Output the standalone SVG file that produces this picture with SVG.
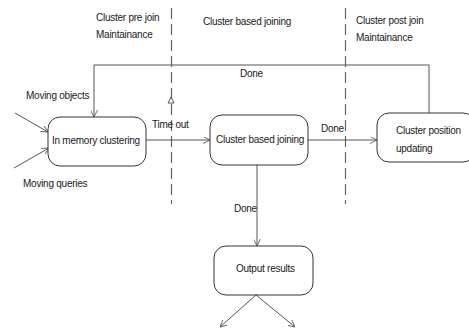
<svg xmlns="http://www.w3.org/2000/svg" width="469" height="328" viewBox="0 0 469 328">
<defs>
<style>
text{font-family:"Liberation Sans",Arial,sans-serif;font-size:10px;letter-spacing:-0.25px;fill:#1a1a1a;}
.box{fill:#fff;stroke:#333;stroke-width:1;}
.ln{fill:none;stroke:#555;stroke-width:1;}
.dash{fill:none;stroke:#666;stroke-width:1.2;stroke-dasharray:11,5;}
</style>
<marker id="ah" viewBox="0 0 10 10" refX="10" refY="5" markerWidth="7" markerHeight="7" markerUnits="userSpaceOnUse" orient="auto">
<path d="M0,0 L10,5 L0,10" fill="none" stroke="#555" stroke-width="1.2"/>
</marker>
</defs>
<rect width="469" height="328" fill="#fff"/>
<g id="phases">
<line class="dash" x1="171.5" y1="8" x2="171.5" y2="204"/>
<line class="dash" x1="345.5" y1="8" x2="345.5" y2="204"/>
<text x="96" y="21">Cluster pre join</text>
<text x="96" y="38">Maintainance</text>
<text x="203" y="25">Cluster based joining</text>
<text x="356" y="24">Cluster post join</text>
<text x="356" y="41">Maintainance</text>
<polygon points="168,103 171,97 174,103" fill="#fff" stroke="#444" stroke-width="0.9"/>
</g>
<g id="connectors">
<polyline class="ln" points="429,113 429,65 94,65 94,117" marker-end="url(#ah)"/>
<line class="ln" x1="15" y1="113" x2="48" y2="132" marker-end="url(#ah)"/>
<line class="ln" x1="14" y1="168" x2="49" y2="148" marker-end="url(#ah)"/>
<line class="ln" x1="146" y1="140" x2="210" y2="140" marker-end="url(#ah)"/>
<line class="ln" x1="308" y1="140" x2="377" y2="140" marker-end="url(#ah)"/>
<line class="ln" x1="257" y1="165" x2="257" y2="246" marker-end="url(#ah)"/>
<line class="ln" x1="256" y1="295" x2="220" y2="327" marker-end="url(#ah)"/>
<line class="ln" x1="256" y1="295" x2="295" y2="327" marker-end="url(#ah)"/>
<text x="240" y="77">Done</text>
<text x="26" y="99">Moving objects</text>
<text x="23" y="187">Moving queries</text>
<text x="152" y="128">Time out</text>
<text x="321" y="132">Done</text>
<text x="234" y="212">Done</text>
</g>
<g id="in-memory-clustering">
<rect class="box" x="48" y="117" width="98" height="49" rx="12"/>
<text x="52" y="144">In memory clustering</text>
</g>
<g id="cluster-based-joining">
<rect class="box" x="210" y="115" width="98" height="50" rx="12"/>
<text x="216" y="143">Cluster based joining</text>
</g>
<g id="cluster-position-updating">
<rect class="box" x="377" y="113" width="98" height="49" rx="12"/>
<text x="396" y="134">Cluster position</text>
<text x="396" y="152">updating</text>
</g>
<g id="output-results">
<rect class="box" x="214" y="246" width="99" height="49" rx="12"/>
<text x="236" y="272">Output results</text>
</g>
</svg>
